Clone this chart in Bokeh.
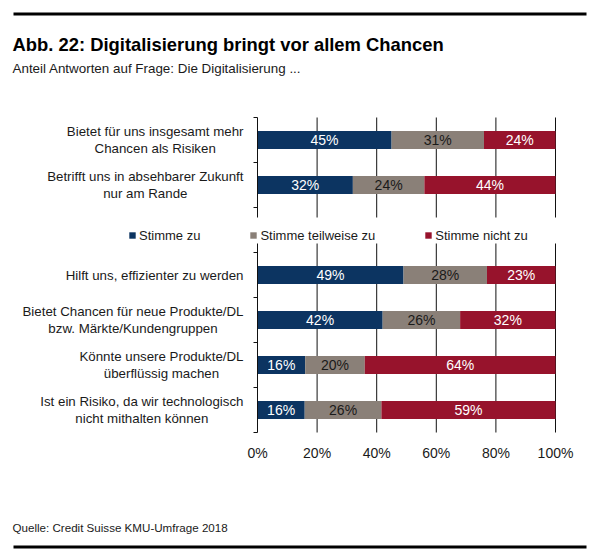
from bokeh.plotting import figure
from bokeh.models import (Range1d, LinearAxis, FixedTicker, PrintfTickFormatter, Label,
                          Legend, LegendItem, BoxAnnotation, ColumnDataSource, Grid)
from bokeh.embed import file_html
from bokeh.resources import INLINE
from bokeh.core.properties import value

# ---------------- data ----------------
categories = [
    "Bietet für uns insgesamt mehr\nChancen als Risiken",
    "Betrifft uns in absehbarer Zukunft\nnur am Rande",
    "Hilft uns, effizienter zu werden",
    "Bietet Chancen für neue Produkte/DL\nbzw. Märkte/Kundengruppen",
    "Könnte unsere Produkte/DL\nüberflüssig machen",
    "Ist ein Risiko, da wir technologisch\nnicht mithalten können",
]
series_names = ["Stimme zu", "Stimme teilweise zu", "Stimme nicht zu"]
stimme_zu = [45, 32, 49, 42, 16, 16]
stimme_teilweise = [31, 24, 28, 26, 20, 26]
stimme_nicht = [24, 44, 23, 32, 64, 59]
x_ticks = [0, 20, 40, 60, 80, 100]
legend_slot = 2  # the legend sits in the row after the second category

title = "Abb. 22: Digitalisierung bringt vor allem Chancen"
subtitle = "Anteil Antworten auf Frage: Die Digitalisierung ..."
source = "Quelle: Credit Suisse KMU-Umfrage 2018"

colors = ["#0C3461", "#8A8078", "#97132C"]
label_colors = ["white", "#1a1a1a", "white"]
FONT = "Liberation Sans"
TXT = "#1a1a1a"

# ---------------- layout (pixels) ----------------
W, H = 594, 557
PL, PR, PT, PB = 257, 555, 117, 432      # plot area inside the canvas

n_slots = len(categories) + 1
rows = [i if i < legend_slot else i + 1 for i in range(len(categories))]
ys = [n_slots - r - 0.5 for r in rows]

sx = (PR - PL) / 100.0
sy = (PB - PT) / n_slots


def X(px):
    return (px - PL) / sx


def Y(py):
    return n_slots - (py - PT) / sy


series = [stimme_zu, stimme_teilweise, stimme_nicht]
totals = [sum(v) for v in zip(*series)]

p = figure(width=W, height=H, x_range=Range1d(X(0), X(W)), y_range=Range1d(Y(H), Y(0)),
           output_backend="svg", toolbar_location=None,
           x_axis_location=None, y_axis_location=None,
           min_border=0)
p.outline_line_color = None
p.background_fill_color = "white"
p.border_fill_color = "white"
p.center = [r for r in p.center if not isinstance(r, Grid)]

# vertical grid lines over the bar area
p.segment(x0=x_ticks[1:], x1=x_ticks[1:], y0=0, y1=n_slots, line_color="#111111", line_width=1)

# x axis (labels only)
xaxis = LinearAxis(ticker=FixedTicker(ticks=x_ticks), formatter=PrintfTickFormatter(format="%d%%"),
                   fixed_location=0)
xaxis.axis_line_color = None
xaxis.major_tick_line_color = None
xaxis.minor_tick_line_color = None
xaxis.major_tick_out = 0
xaxis.major_tick_in = 0
xaxis.minor_tick_out = 0
xaxis.minor_tick_in = 0
xaxis.major_label_standoff = 12
xaxis.major_label_text_font = FONT
xaxis.major_label_text_font_size = "14px"
xaxis.major_label_text_color = TXT
p.add_layout(xaxis, "below")

# y axis: line with outward ticks at row boundaries
yaxis = LinearAxis(ticker=FixedTicker(ticks=[], minor_ticks=list(range(n_slots + 1))),
                   fixed_location=0, bounds=(0, n_slots))
yaxis.axis_line_color = "#111111"
yaxis.major_tick_line_color = None
yaxis.minor_tick_line_color = "#111111"
yaxis.minor_tick_out = 4
yaxis.minor_tick_in = 0
yaxis.major_label_text_font_size = "0px"
p.add_layout(yaxis, "left")

# stacked bars
left = [0.0] * len(categories)
renderers = []
for name, vals, col, tcol in zip(series_names, series, colors, label_colors):
    widths = [v * 100.0 / t for v, t in zip(vals, totals)]
    right = [l + w for l, w in zip(left, widths)]
    src = ColumnDataSource(dict(y=ys, left=left, right=right,
                                mid=[(l + r) / 2 for l, r in zip(left, right)],
                                lab=[f"{v}%" for v in vals]))
    r = p.hbar(y="y", left="left", right="right", height=0.4, source=src,
               fill_color=col, line_color=None)
    renderers.append(r)
    p.text(x="mid", y="y", text="lab", source=src, text_align="center", text_baseline="middle",
           text_font=value(FONT), text_font_size="14px", text_color=tcol)
    left = right

# category labels
for cat, y in zip(categories, ys):
    p.add_layout(Label(x=0, y=y, x_offset=-14, text=cat,
                       anchor="center_right", text_align="center", text_baseline="middle",
                       text_font=FONT, text_font_size="13.3px", text_color=TXT,
                       text_line_height=1.1))

# blank band behind the legend
p.add_layout(BoxAnnotation(bottom=Y(243), top=Y(217), left=X(100), right=X(570),
                           fill_color="white", fill_alpha=1, line_color=None))

legend = Legend(items=[LegendItem(label=n, renderers=[r]) for n, r in zip(series_names, renderers)],
                orientation="horizontal", location=(128, H - 243))
legend.background_fill_color = "white"
legend.background_fill_alpha = 1
legend.border_line_color = None
legend.padding = 6
legend.margin = 0
legend.spacing = 49
legend.glyph_width = 8
legend.glyph_height = 8
legend.label_standoff = 3
legend.label_height = 16
legend.label_text_font = FONT
legend.label_text_font_size = "13px"
legend.label_text_color = TXT
p.add_layout(legend, "center")

# titles and source
p.add_layout(Label(x=X(12), y=Y(44), text=title,
                   text_font=FONT, text_font_size="18.4px", text_font_style="bold",
                   text_color="black", text_baseline="alphabetic"))
p.add_layout(Label(x=X(12), y=Y(67.5), text=subtitle,
                   text_font=FONT, text_font_size="13.4px", text_color=TXT,
                   text_baseline="alphabetic"))
p.add_layout(Label(x=X(12), y=Y(527), text=source,
                   text_font=FONT, text_font_size="11.6px", text_color=TXT,
                   text_baseline="alphabetic"))

# rules at top and bottom
for top_px in (12, 545):
    p.add_layout(BoxAnnotation(left=X(13), right=X(586), top=Y(top_px), bottom=Y(top_px + 3),
                               fill_color="black", fill_alpha=1, line_color=None))

open("out.html", "w").write(file_html(p, INLINE))
